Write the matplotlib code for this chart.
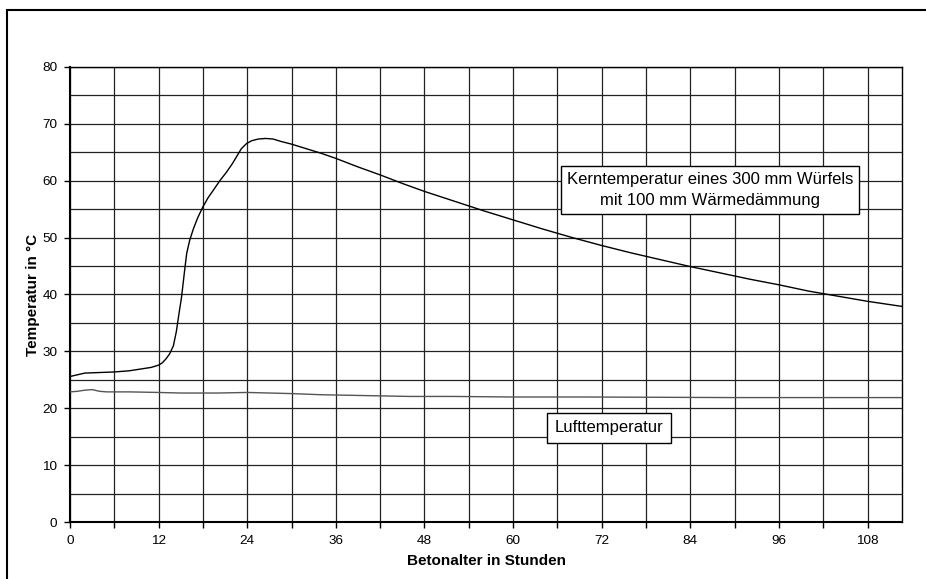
import matplotlib.pyplot as plt
from matplotlib.patches import Rectangle

plt.rcParams['font.family'] = ['Liberation Sans', 'DejaVu Sans']

# Kerntemperatur (Betonalter in h, Temperatur in °C)
kern_hours = [0, 1, 2, 4, 6, 8, 10, 11, 12, 12.5, 13, 13.5, 14, 14.4, 14.8, 15.1,
              15.5, 15.8, 16.2, 16.7, 17.3, 18.0, 18.7, 19.4, 20.3, 21.2, 22.0,
              22.6, 23.2, 23.9, 24.6, 25.5, 26.5, 27.5, 28.5, 30, 32, 34, 36, 39,
              42, 45, 48, 52, 56, 60, 64, 68, 72, 76, 80, 84, 88, 92, 96, 100,
              104, 108, 112.7]
kern_temp = [25.6, 25.9, 26.2, 26.3, 26.4, 26.6, 27.0, 27.2, 27.6, 28.0, 28.7, 29.6,
             31.0, 33.5, 37.0, 39.5, 44.0, 47.2, 49.5, 51.5, 53.5, 55.4, 57.0, 58.3,
             60.0, 61.5, 63.0, 64.3, 65.6, 66.5, 67.0, 67.3, 67.4, 67.3, 66.9, 66.4,
             65.6, 64.8, 63.9, 62.4, 61.0, 59.5, 58.1, 56.4, 54.7, 53.1, 51.5, 50.0,
             48.6, 47.3, 46.1, 44.9, 43.8, 42.7, 41.7, 40.6, 39.7, 38.8, 37.9]

# Lufttemperatur
luft_hours = [0, 1, 2, 3, 4, 5, 8, 12, 15, 20, 24, 27, 30, 34, 38, 42, 46, 52, 60,
              70, 80, 90, 100, 112.7]
luft_temp = [22.9, 23.0, 23.2, 23.3, 23.0, 22.9, 22.9, 22.8, 22.7, 22.7, 22.8, 22.7,
             22.6, 22.4, 22.3, 22.2, 22.1, 22.1, 22.0, 22.0, 21.95, 21.9, 21.9, 21.9]

x_ticks = [0, 12, 24, 36, 48, 60, 72, 84, 96, 108]
y_ticks = [0, 10, 20, 30, 40, 50, 60, 70, 80]

fig = plt.figure(figsize=(9.26, 5.79), dpi=100)
ax = fig.add_axes([70/926, 1 - 522.3/579, 832.3/926, 455.6/579])

# outer frame of the figure (open to the right and bottom edge)
fig.patches.append(Rectangle((7/926, -0.1), 1.1, 1.1 - 10/579, transform=fig.transFigure,
                             fill=False, edgecolor='black', linewidth=1.5))

ax.plot(kern_hours, kern_temp, color='black', linewidth=1.0, zorder=3)
ax.plot(luft_hours, luft_temp, color='#555555', linewidth=1.0, zorder=3)

ax.set_xlim(0, 112.7)
ax.set_ylim(0, 80)
ax.set_xticks(x_ticks)
ax.set_xticks(range(6, 113, 12), minor=True)
ax.set_yticks(y_ticks)
ax.set_yticks(range(5, 80, 10), minor=True)
ax.tick_params(which='both', direction='out', length=4, width=1, labelsize=9.7, color='black')
ax.tick_params(axis='y', which='minor', length=0)
ax.tick_params(axis='y', pad=5)
ax.tick_params(axis='x', pad=5)
ax.grid(True, which='both', color='#222222', linewidth=0.9)
ax.set_axisbelow(True)

for side in ['top', 'right']:
    ax.spines[side].set_linewidth(1.0)
for side in ['left', 'bottom']:
    ax.spines[side].set_linewidth(1.5)

ax.set_xlabel('Betonalter in Stunden', fontsize=11, fontweight='bold', labelpad=5)
ax.set_ylabel('Temperatur in °C', fontsize=11, fontweight='bold', labelpad=2)

ax.text(86.7, 58.4, 'Kerntemperatur eines 300 mm Würfels\nmit 100 mm Wärmedämmung',
        ha='center', va='center', fontsize=12, linespacing=1.5, zorder=4,
        bbox=dict(boxstyle='square,pad=0.35', facecolor='white', edgecolor='black',
                  linewidth=1.0))
ax.text(73.0, 16.6, 'Lufttemperatur', ha='center', va='center', fontsize=12, zorder=4,
        bbox=dict(boxstyle='square,pad=0.45', facecolor='white', edgecolor='black',
                  linewidth=1.0))

fig.savefig('out.png', dpi=100)
